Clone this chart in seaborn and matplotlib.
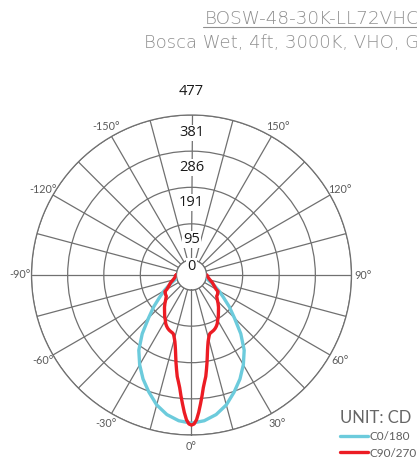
import numpy as np
import pandas as pd
import matplotlib
matplotlib.use("Agg")
import matplotlib.pyplot as plt
import seaborn as sns
from matplotlib.lines import Line2D

# ---------------- data ----------------
title_text = "BOSW-48-30K-LL72VHC"
subtitle_text = "Bosca Wet, 4ft, 3000K, VHO, G"
unit_text = "UNIT: CD"

ring_values = [0, 95, 191, 286, 381]
ring_labels = ["0", "95", "191", "286", "381", "477"]

angle_ticks = [0, 30, 60, 90, 120, 150, -150, -120, -90, -60, -30]
angle_labels = ["0°", "30°", "60°", "90°", "120°", "150°",
                "-150°", "-120°", "-90°", "-60°", "-30°"]

series_names = ["C0/180", "C90/270"]

c0_angles = [-90, -85, -80, -75, -70, -65, -60, -55, -50, -45, -40, -35, -30,
             -25, -20, -15, -10, -5, 0, 5, 10, 15, 20, 25, 30, 35, 40, 45,
             50, 55, 60, 65, 70, 75, 80, 85, 90]
c0_cd = [0, 0, 1, 4, 13, 27, 44, 63, 90, 120, 162, 202, 233,
         262, 288, 314, 333, 345, 350, 345, 333, 314, 288, 262, 233, 202, 162, 120,
         90, 63, 44, 27, 13, 4, 1, 0, 0]

c90_angles = [-90, -85, -80, -75, -70, -66, -63, -60, -58, -56, -53, -50, -46,
              -43, -40, -36, -33, -30, -28, -26, -24, -22, -20, -18, -17, -16,
              -15, -14, -13, -12, -11, -10, -9, -8, -7, -6, -5, -4, -3, -2, -1,
              0, 1, 2, 3, 4, 5, 6, 7, 8, 9, 10, 11, 12, 13, 14, 15, 16, 17,
              18, 20, 22, 24, 26, 28, 30, 33, 36, 40, 43, 46, 50, 53, 56, 58,
              60, 63, 66, 70, 75, 80, 85, 90]
c90_cd = [1, 3, 6, 11, 19, 24, 29, 35, 43, 44, 46, 47, 55,
          63, 71, 81, 90, 98, 105, 110, 114, 117, 119, 121, 123, 128,
          134, 141, 151, 163, 178, 195, 212, 230, 243, 258, 279, 300, 322, 341, 352,
          355, 352, 341, 322, 300, 279, 258, 243, 230, 212, 195, 178, 163, 151, 141, 134, 128, 123,
          121, 119, 117, 114, 110, 105, 98, 90, 81, 71, 63, 55, 47, 46, 44, 43,
          35, 29, 24, 19, 11, 6, 3, 1]

# ---------------- style ----------------
sns.set_theme(style="white")
plt.rcParams["font.family"] = ["DejaVu Sans"]

blue = "#6ccbdc"
red = "#ec1c24"
grid_c = "#707070"
text_gray = "#8f8f8f"

fig = plt.figure(figsize=(4.17, 4.62), dpi=100)
fig.patch.set_facecolor("white")
ax = fig.add_axes([31.5 / 417, 27 / 462, 320 / 417, 320 / 462], projection="polar")
ax.set_facecolor("white")
ax.set_theta_zero_location("S")
ax.set_theta_direction(1)
ax.set_ylim(0, 381)
ax.set_rorigin(-39.4)

def closed(angles, vals, name):
    a = list(angles) + [angles[0]]
    v = list(vals) + [vals[0]]
    return pd.DataFrame({"theta": np.deg2rad(a), "cd": v, "curve": name})

df0 = closed(c0_angles, c0_cd, series_names[0])
df1 = closed(c90_angles, c90_cd, series_names[1])

sns.lineplot(data=df0, x="theta", y="cd", sort=False, estimator=None,
             color=blue, lw=2.4, ax=ax, label=series_names[0], zorder=3)
sns.lineplot(data=df1, x="theta", y="cd", sort=False, estimator=None,
             color=red, lw=2.4, ax=ax, label=series_names[1], zorder=4)
ax.set_xlabel("")
ax.set_ylabel("")

ax.set_xticks(np.deg2rad(np.arange(0, 360, 15)))
ax.set_xticklabels([])
ax.set_yticks(ring_values)
ax.set_yticklabels([])
ax.grid(True, color=grid_c, lw=0.9)
for sp in ax.spines.values():
    sp.set_color(grid_c)
    sp.set_linewidth(0.9)
ax.tick_params(length=0)

# radial labels along the top spoke
ring_label_pos = [-16, 53, 152, 244, 334, 442]
for lab, pos in zip(ring_labels, ring_label_pos):
    ax.text(np.pi, pos, lab, ha="center", va="center", fontsize=10.5,
            family=["Open Sans", "DejaVu Sans"], color="#1a1a1a", zorder=5,
            bbox=dict(facecolor="white", edgecolor="none", pad=0.6))

# angle labels
for a, lab in zip(angle_ticks, angle_labels):
    ax.text(np.deg2rad(a), 412, lab, ha="center", va="center", fontsize=7.8,
            color="#5a5a5a", family=["Lato", "DejaVu Sans"])

# titles
fig.text(205 / 417, 1 - 24 / 462, title_text, ha="left", va="baseline",
         fontsize=13.2, color=text_gray, fontweight="light")
fig.add_artist(Line2D([203 / 417, 1.0], [1 - 27 / 462, 1 - 27 / 462],
                      color=text_gray, lw=0.8, transform=fig.transFigure))
fig.text(144 / 417, 1 - 47.5 / 462, subtitle_text, ha="left", va="baseline",
         fontsize=13, color=text_gray, fontweight="light")

leg = ax.legend(loc="upper left", bbox_to_anchor=(340 / 417, 1 - 410 / 462),
                bbox_transform=fig.transFigure, frameon=False, fontsize=8.3,
                title=unit_text, title_fontsize=12, handlelength=2.4,
                handletextpad=0.1, labelspacing=0.45, borderpad=0,
                borderaxespad=0, alignment="left",
                prop={"family": ["Lato", "DejaVu Sans"], "size": 8.5})
for t in leg.get_texts():
    t.set_color("#5f5f5f")
leg.get_title().set_color("#666666")
leg.get_title().set_family(["Lato", "DejaVu Sans"])

fig.savefig("out.png", dpi=100, facecolor="white")
